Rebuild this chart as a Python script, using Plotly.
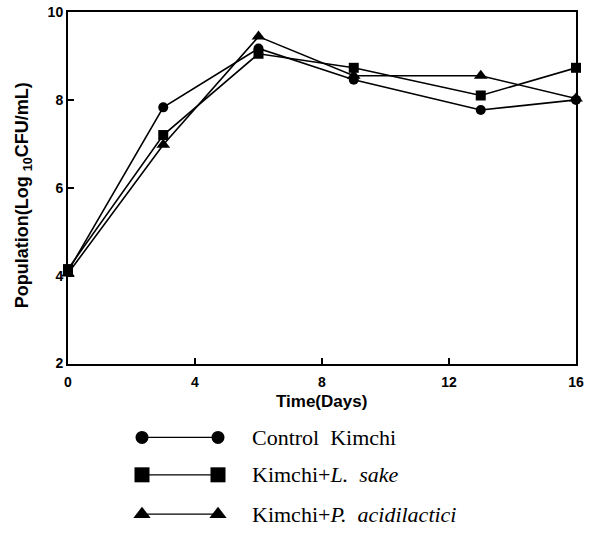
import plotly.graph_objects as go

days = [0, 3, 6, 9, 13, 16]
control = [4.1, 7.83, 9.17, 8.46, 7.77, 8.0]
l_sake = [4.15, 7.2, 9.05, 8.73, 8.1, 8.73]
p_acid = [4.05, 6.98, 9.44, 8.55, 8.55, 8.03]

series_names = ["Control  Kimchi", "Kimchi+<i>L.  sake</i>", "Kimchi+<i>P.  acidilactici</i>"]
series_values = [control, l_sake, p_acid]
symbols = ["circle", "square", "triangle-up"]
msizes = [10, 10, 12]

x_ticks = [0, 4, 8, 12, 16]
y_ticks = [2, 4, 6, 8, 10]

W, H = 596, 536
ML, MR, MT, MB = 68, 20, 12, 0
plot_bottom_px = 369
paper_w = W - ML - MR
paper_h = H - MT - MB
main_dom0 = (H - MB - plot_bottom_px) / paper_h

fig = go.Figure()

for name, vals, sym, ms in zip(series_names, series_values, symbols, msizes):
    fig.add_trace(go.Scatter(
        x=days, y=vals, mode="lines+markers", name=name,
        line=dict(color="black", width=1.6),
        marker=dict(symbol=sym, size=ms, color="black"),
        showlegend=False, cliponaxis=False,
    ))

# custom legend drawn on a hidden pixel-scaled overlay axis
leg_rows_y = [444, 482, 522]
leg_x = [142, 218]
leg_msizes = [13, 15, 15]
for name, sym, ms, ry in zip(series_names, symbols, leg_msizes, leg_rows_y):
    fig.add_trace(go.Scatter(
        x=leg_x, y=[ry, ry], mode="lines+markers", xaxis="x2", yaxis="y2",
        line=dict(color="black", width=1.2),
        marker=dict(symbol=sym, size=ms, color="black"),
        showlegend=False, cliponaxis=False, hoverinfo="skip",
    ))
    fig.add_annotation(
        x=250, y=ry, xref="x2", yref="y2", text=name, showarrow=False,
        xanchor="left", yanchor="middle",
        font=dict(family="Liberation Serif, Times New Roman, serif", size=22, color="black"),
    )

# axis titles
fig.add_annotation(
    x=321, y=408, xref="x2", yref="y2", text="Time(Days)", showarrow=False,
    xanchor="center", yanchor="middle",
    font=dict(family="Arial, Liberation Sans, sans-serif", size=17, color="black", weight="bold"),
)
fig.add_annotation(
    x=(23 - ML) / paper_w, y=(H - MB - 198) / paper_h, xref="paper", yref="paper",
    text="Population(Log <sub>10</sub>CFU/mL)",
    showarrow=False, textangle=-90, xanchor="center", yanchor="middle",
    font=dict(family="Arial, Liberation Sans, sans-serif", size=18, color="black", weight="bold"),
)

tickfont = dict(family="Arial, Liberation Sans, sans-serif", size=14, color="black", weight="bold")

fig.update_layout(
    width=W, height=H,
    margin=dict(l=ML, r=MR, t=MT, b=MB),
    paper_bgcolor="white", plot_bgcolor="white",
    xaxis=dict(
        range=[0, 16], tickvals=x_ticks, ticks="inside", ticklen=6, tickwidth=1.5,
        tickcolor="black", showline=True, linecolor="black", linewidth=2, mirror=True,
        showgrid=False, zeroline=False, tickfont=tickfont, anchor="y", ticklabelstandoff=5,
    ),
    yaxis=dict(
        range=[2, 10], tickvals=y_ticks, ticks="inside", ticklen=6, tickwidth=1.5,
        tickcolor="black", showline=True, linecolor="black", linewidth=2, mirror=True,
        showgrid=False, zeroline=False, tickfont=tickfont, domain=[main_dom0, 1], anchor="x",
    ),
    xaxis2=dict(range=[ML, W - MR], domain=[0, 1], visible=False, anchor="y2", fixedrange=True),
    yaxis2=dict(range=[H - MB, plot_bottom_px], domain=[0, main_dom0], visible=False, anchor="x2", fixedrange=True),
)

fig.write_html("out.html", config={"displayModeBar": False},
               post_script="document.body.style.margin='0';")
